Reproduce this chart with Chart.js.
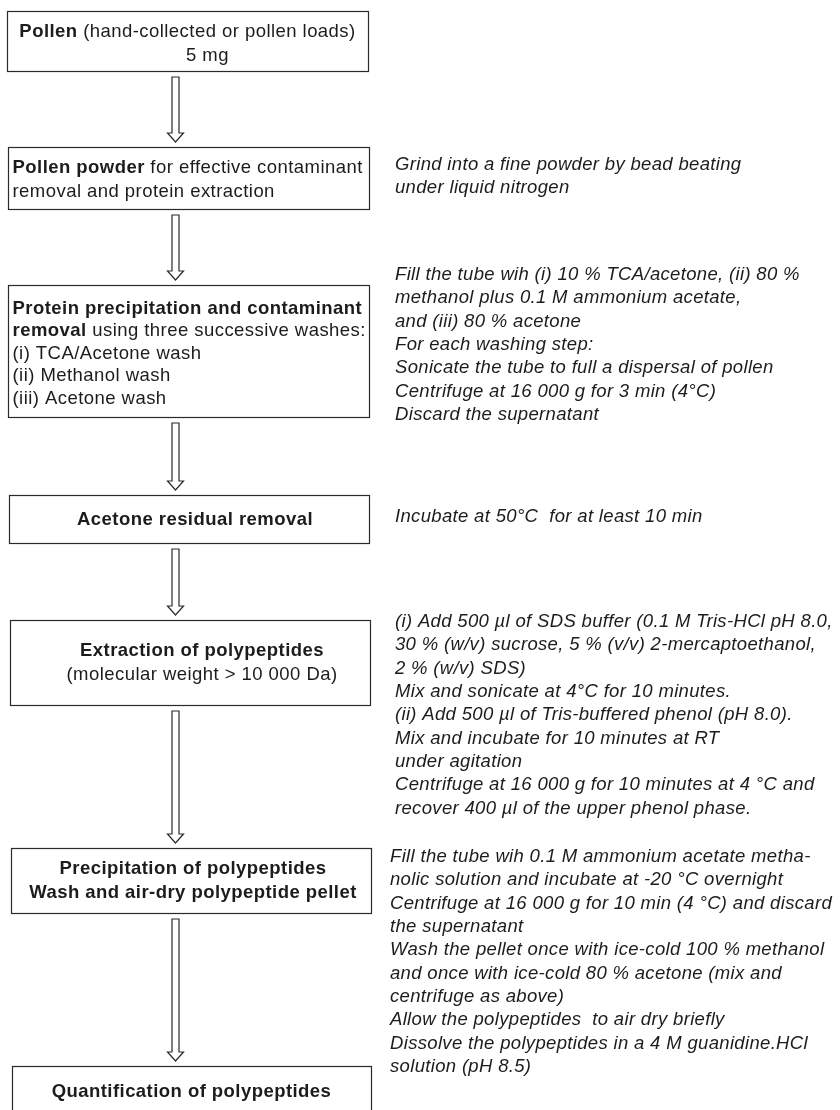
<!DOCTYPE html>
<html>
<head>
<meta charset="utf-8">
<script src="https://cdn.jsdelivr.net/npm/chart.js@4.4.1/dist/chart.umd.min.js"></script>
<style>
  html, body { margin: 0; padding: 0; background: #fff; }
  #flow { display: block; }
</style>
</head>
<body>
<canvas id="flow" width="840" height="1110"></canvas>
<script>
// steps of the protocol: each line is a list of [text, bold] runs
const stepLines = [
  [[["Pollen", true], [" (hand-collected or pollen loads)", false]], [["5 mg", false]]],
  [[["Pollen powder", true], [" for effective contaminant", false]], [["removal and protein extraction", false]]],
  [
    [["Protein precipitation and contaminant", true]],
    [["removal", true], [" using three successive washes:", false]],
    [["(i) TCA/Acetone wash", false]],
    [["(ii) Methanol wash", false]],
    [["(iii) Acetone wash", false]],
  ],
  [[["Acetone residual removal", true]]],
  [[["Extraction of polypeptides", true]], [["(molecular weight > 10 000 Da)", false]]],
  [[["Precipitation of polypeptides", true]], [["Wash and air-dry polypeptide pellet", true]]],
  [[["Quantification of polypeptides", true]]],
];

// vertical extent of each box, in chart units (top, bottom)
const stepTop = [11, 147, 285, 495, 620, 848, 1066];
const stepBottom = [71, 209, 417, 543, 705, 913, 1130];

// italic notes on the right, one list per step
const stepNotes = [
  [],
  ["Grind into a fine powder by bead beating", "under liquid nitrogen"],
  [
    "Fill the tube wih (i) 10 % TCA/acetone, (ii) 80 %",
    "methanol plus 0.1 M ammonium acetate,",
    "and (iii) 80 % acetone",
    "For each washing step:",
    "Sonicate the tube to full a dispersal of pollen",
    "Centrifuge at 16 000 g for 3 min (4°C)",
    "Discard the supernatant",
  ],
  ["Incubate at 50°C  for at least 10 min"],
  [
    "(i) Add 500 µl of SDS buffer (0.1 M Tris-HCl pH 8.0,",
    "30 % (w/v) sucrose, 5 % (v/v) 2-mercaptoethanol,",
    "2 % (w/v) SDS)",
    "Mix and sonicate at 4°C for 10 minutes.",
    "(ii) Add 500 µl of Tris-buffered phenol (pH 8.0).",
    "Mix and incubate for 10 minutes at RT",
    "under agitation",
    "Centrifuge at 16 000 g for 10 minutes at 4 °C and",
    "recover 400 µl of the upper phenol phase.",
  ],
  [
    "Fill the tube wih 0.1 M ammonium acetate metha-",
    "nolic solution and incubate at -20 °C overnight",
    "Centrifuge at 16 000 g for 10 min (4 °C) and discard",
    "the supernatant",
    "Wash the pellet once with ice-cold 100 % methanol",
    "and once with ice-cold 80 % acetone (mix and",
    "centrifuge as above)",
    "Allow the polypeptides  to air dry briefly",
    "Dissolve the polypeptides in a 4 M guanidine.HCl",
    "solution (pH 8.5)",
  ],
  [],
];
const noteStart = [0, 163, 273, 515, 620, 855, 0];

// layout (not data): box edges, text alignment and small shifts
const boxLeft = [7, 8, 8, 9, 10, 11, 12];
const boxRight = [368, 369, 369, 369, 370, 371, 371];
const stepAlign = ["center", "left", "left", "center", "center", "center", "center"];
const lineShift = [[0, 20], [0, 0], [0, 0, 0, 0, 0], [6], [12, 12], [2, 2], [0]];
const textDrop = [2.5, 1.5, 2, 0, 0, 0, 0];
const noteX = [0, 395, 395, 395, 395, 390, 0];

const FONT = '"Liberation Sans", Arial, Helvetica, sans-serif';
const INK = "#1c1c1c";

const flowPlugin = {
  id: "flow",
  afterDraw(chart) {
    const { ctx, scales } = chart;
    const X = (v) => scales.x.getPixelForValue(v);
    const Y = (v) => scales.y.getPixelForValue(v);
    const arrowX = 175.5;

    ctx.save();
    ctx.strokeStyle = "#2a2a2a";
    ctx.lineWidth = 1.2;
    ctx.fillStyle = INK;
    ctx.textBaseline = "middle";
    ctx.textAlign = "left";

    stepLines.forEach((lines, i) => {
      const top = Y(stepTop[i]), bottom = Y(stepBottom[i]);
      const left = X(boxLeft[i]), right = X(boxRight[i]);
      ctx.strokeRect(Math.round(left) + 0.5, Math.round(top) + 0.5,
        Math.round(right - left), Math.round(bottom - top));

      // box text
      ctx.letterSpacing = "0.45px";
      const lh = lines.length > 2 ? 22.5 : 24;
      const mid = (i === 6 ? Y(1092) : (top + bottom) / 2 + 0.5) + textDrop[i];
      lines.forEach((runs, k) => {
        const y = mid + (k - (lines.length - 1) / 2) * lh;
        let w = 0;
        runs.forEach(([t, b]) => {
          ctx.font = (b ? "bold " : "") + "18.5px " + FONT;
          w += ctx.measureText(t).width;
        });
        let x = stepAlign[i] === "left" ? left + 4.5 : (left + right) / 2 - w / 2;
        x += lineShift[i][k];
        runs.forEach(([t, b]) => {
          ctx.font = (b ? "bold " : "") + "18.5px " + FONT;
          ctx.fillText(t, x, y);
          x += ctx.measureText(t).width;
        });
      });

      // hollow arrow to the next box
      if (i < stepLines.length - 1) {
        const a0 = bottom + 6, tip = Y(stepTop[i + 1]) - 5;
        const hs = 3.5, hw = 8, hh = 9;
        const cx = X(arrowX);
        ctx.beginPath();
        ctx.moveTo(cx - hs, a0);
        ctx.lineTo(cx - hs, tip - hh);
        ctx.lineTo(cx - hw, tip - hh);
        ctx.lineTo(cx, tip);
        ctx.lineTo(cx + hw, tip - hh);
        ctx.lineTo(cx + hs, tip - hh);
        ctx.lineTo(cx + hs, a0);
        ctx.closePath();
        ctx.stroke();
      }

      // italic notes
      ctx.letterSpacing = "0.33px";
      ctx.font = "italic 18.5px " + FONT;
      stepNotes[i].forEach((t, k) => {
        ctx.fillText(t, X(noteX[i]), Y(noteStart[i]) + 2 + k * 23.3);
      });
    });
    ctx.restore();
  },
};

new Chart(document.getElementById("flow"), {
  type: "scatter",
  data: {
    datasets: [{
      data: stepTop.map((t, i) => ({ x: 189, y: (t + stepBottom[i]) / 2 })),
      pointRadius: 0,
    }],
  },
  options: {
    responsive: false,
    animation: false,
    devicePixelRatio: 1,
    layout: { padding: 0 },
    plugins: { legend: { display: false }, tooltip: { enabled: false } },
    events: [],
    scales: {
      x: { type: "linear", min: 0, max: 840, display: false },
      y: { type: "linear", min: 0, max: 1110, reverse: true, display: false },
    },
  },
  plugins: [flowPlugin],
});
</script>
</body>
</html>
